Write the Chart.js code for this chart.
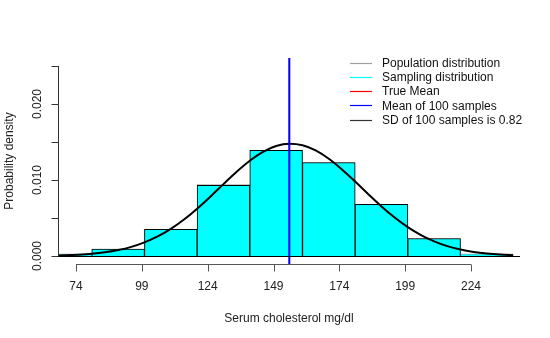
<!DOCTYPE html>
<html>
<head>
<meta charset="utf-8">
<script src="https://cdn.jsdelivr.net/npm/chart.js@4/dist/chart.umd.min.js"></script>
<style>
html,body{margin:0;padding:0;background:#fff;}
#wrap{width:550px;height:338px;position:relative;}
</style>
</head>
<body>
<div id="wrap"><canvas id="c" width="550" height="338"></canvas></div>
<script>
// ---- data ----
const popBinCenters = [70, 90, 110, 130, 150, 170, 190, 210, 230];
const popDensity    = [0.0003, 0.0009, 0.0035, 0.0094, 0.0139, 0.0123, 0.0068, 0.0023, 0.0003];
const sampleBinCenters = [90, 110, 130, 150, 170, 190, 210];
const sampleDensity    = [0.0009, 0.0035, 0.0093, 0.0139, 0.0123, 0.0068, 0.0023];
const curveX = [65,70,75,80,85,90,95,100,105,110,115,120,125,130,135,140,145,150,155,160,165,170,175,180,185,190,195,200,205,210,215,220,225,230,235,240];
const curveY = [0.000054,0.000098,0.000174,0.000296,0.000489,0.000779,0.00120,0.00179,0.00257,0.00357,0.00480,0.00623,0.00781,0.00946,0.01108,0.01253,0.01370,0.01447,0.01477,0.01457,0.01389,0.01279,0.01138,0.00979,0.00813,0.00653,0.00507,0.00380,0.00275,0.00193,0.00130,0.00085,0.00054,0.00033,0.00019,0.00011];
const trueMean = 155;
const sampleMean = 155;
const xTicks = [74, 99, 124, 149, 174, 199, 224];
const yTicks = [0, 0.005, 0.010, 0.015, 0.020, 0.025];
const yTickLabels = ["0.000", "", "0.010", "", "0.020", ""];
const legendLabels = ["Population distribution", "Sampling distribution", "True Mean", "Mean of 100 samples", "SD of 100 samples is 0.82"];
const legendColors = ["#a0a0a0", "#00ffff", "#ff0000", "#0000ff", "#333333"];
const xTitle = "Serum cholesterol mg/dl";
const yTitle = "Probability density";
const xMin = 67.16, xMax = 242.6, yMin = -0.00105, yMax = 0.02605;

const FONT = '12px "Liberation Sans", Arial, sans-serif';

const rAxes = {
  id: 'rAxes',
  afterDraw(chart) {
    const ctx = chart.ctx;
    const xs = chart.scales.x, ys = chart.scales.y;
    const a = chart.chartArea;
    ctx.save();
    ctx.setLineDash([]);
    // baseline at y = 0
    ctx.strokeStyle = '#000';
    ctx.lineWidth = 1;
    const y0 = Math.round(ys.getPixelForValue(0)) + 0.5;
    ctx.beginPath(); ctx.moveTo(a.left, y0); ctx.lineTo(a.right, y0); ctx.stroke();
    // x axis
    ctx.strokeStyle = '#555';
    const yb = Math.round(a.bottom) + 0.5;
    ctx.beginPath();
    ctx.moveTo(xs.getPixelForValue(xTicks[0]), yb);
    ctx.lineTo(xs.getPixelForValue(xTicks[xTicks.length-1]), yb);
    xTicks.forEach(v => {
      const px = Math.round(xs.getPixelForValue(v)) + 0.5;
      ctx.moveTo(px, yb); ctx.lineTo(px, yb + 7);
    });
    ctx.stroke();
    ctx.fillStyle = '#222';
    ctx.font = FONT;
    ctx.textAlign = 'center'; ctx.textBaseline = 'middle';
    xTicks.forEach(v => ctx.fillText(String(v), xs.getPixelForValue(v), 287));
    // y axis
    ctx.strokeStyle = '#333';
    const xl = Math.round(a.left) + 0.5;
    ctx.beginPath();
    ctx.moveTo(xl, ys.getPixelForValue(yTicks[0]));
    ctx.lineTo(xl, ys.getPixelForValue(yTicks[yTicks.length-1]));
    yTicks.forEach(v => {
      const py = Math.round(ys.getPixelForValue(v)) + 0.5;
      ctx.moveTo(xl, py); ctx.lineTo(xl - 7, py);
    });
    ctx.stroke();
    yTicks.forEach((v, i) => {
      if (!yTickLabels[i]) return;
      ctx.save();
      ctx.translate(38, ys.getPixelForValue(v));
      ctx.rotate(-Math.PI/2);
      ctx.fillText(yTickLabels[i], 0, 0);
      ctx.restore();
    });
    // titles
    ctx.fillText(xTitle, (a.left + a.right)/2, 319);
    ctx.save();
    ctx.translate(10, (a.top + a.bottom)/2);
    ctx.rotate(-Math.PI/2);
    ctx.fillText(yTitle, 0, 0);
    ctx.restore();
    // legend
    ctx.textAlign = 'left';
    legendLabels.forEach((t, i) => {
      const y = 62.5 + i * 14.3;
      ctx.beginPath();
      ctx.strokeStyle = legendColors[i];
      ctx.lineWidth = 1.2;
      ctx.moveTo(350, Math.round(y) + 0.5); ctx.lineTo(372, Math.round(y) + 0.5);
      ctx.stroke();
      ctx.fillStyle = '#111';
      ctx.fillText(t, 382, y + 1);
    });
    ctx.restore();
  }
};

new Chart(document.getElementById('c'), {
  type: 'bar',
  data: {
    datasets: [
      {
        type: 'line', label: 'mean', order: 0,
        data: [{x: sampleMean, y: yMin}, {x: sampleMean, y: yMax}],
        borderColor: '#0000ff', borderWidth: 2, pointRadius: 0
      },
      {
        type: 'line', label: 'curve', order: 1,
        data: curveX.map((x, i) => ({x, y: curveY[i]})),
        borderColor: '#000', borderWidth: 2, pointRadius: 0,
        cubicInterpolationMode: 'monotone'
      },
      {
        type: 'line', label: 'true', order: 2,
        data: [{x: trueMean, y: yMin}, {x: trueMean, y: yMax}],
        borderColor: '#ff0000', borderWidth: 1, pointRadius: 0
      },
      {
        type: 'bar', label: 'sample', order: 4, grouped: false,
        data: sampleBinCenters.map((x, i) => ({x, y: sampleDensity[i]})),
        backgroundColor: '#00ffff', borderColor: '#000', borderWidth: 1,
        barPercentage: 1, categoryPercentage: 1, borderSkipped: 'bottom'
      },
      {
        type: 'bar', label: 'pop', order: 5, grouped: false,
        data: popBinCenters.map((x, i) => ({x, y: popDensity[i]})),
        backgroundColor: '#00ffff', borderColor: '#999', borderWidth: 1,
        barPercentage: 1, categoryPercentage: 1, borderSkipped: 'bottom'
      }
    ]
  },
  options: {
    responsive: false,
    animation: false,
    events: [],
    layout: { padding: { left: 58, top: 58, right: 30, bottom: 74 } },
    plugins: { legend: { display: false }, tooltip: { enabled: false } },
    scales: {
      x: {
        type: 'linear', min: xMin, max: xMax, display: false, offset: false,
        grid: { offset: false },
        afterBuildTicks: (s) => { s.ticks = popBinCenters.map(v => ({value: v})); }
      },
      y: { type: 'linear', min: yMin, max: yMax, display: false }
    }
  },
  plugins: [rAxes]
});
</script>
</body>
</html>
